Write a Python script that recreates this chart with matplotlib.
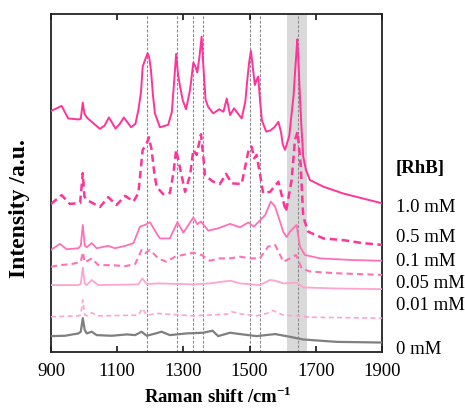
import matplotlib
matplotlib.use("Agg")
import matplotlib.pyplot as plt

plt.rcParams['font.family'] = ['Liberation Serif', 'DejaVu Serif']
plt.rcParams['mathtext.fontset'] = 'custom'
plt.rcParams['mathtext.rm'] = 'Liberation Serif'
plt.rcParams['mathtext.bf'] = 'Liberation Serif:bold'

# SERS spectra of RhB, stacked with offsets (wavenumber, intensity a.u.)
shift_1mM = [900, 915, 932, 952, 983, 990, 996, 1001, 1008, 1023, 1048, 1062, 1075, 1095, 1108,
             1120, 1142, 1155, 1164, 1172, 1177, 1184, 1192, 1197, 1202, 1208, 1214, 1229, 1254,
             1265, 1272, 1278, 1284, 1290, 1298, 1308, 1320, 1330, 1336, 1342, 1348, 1355, 1360,
             1367, 1375, 1390, 1408, 1421, 1431, 1441, 1453, 1476, 1487, 1493, 1499, 1504, 1510,
             1516, 1521, 1526, 1531, 1537, 1550, 1562, 1575, 1587, 1595, 1600, 1607, 1620,
             1627, 1633, 1637, 1641, 1644, 1648, 1652, 1657, 1662, 1670, 1682, 1723, 1783,
             1843, 1900]
int_1mM = [71.3, 72.0, 72.8, 69.1, 68.8, 69.0, 73.8, 70.5, 69.4, 68.1, 66.0, 67.0, 69.4, 66.1, 67.5,
           69.4, 66.5, 67.5, 71.6, 77.0, 84.4, 86.4, 88.4, 87.0, 83.4, 76.0, 70.6, 66.5, 67.2,
           71.0, 80.0, 88.2, 82.0, 78.5, 74.5, 71.8, 77.5, 85.6, 84.5, 82.7, 87.0, 93.3, 85.0,
           74.6, 72.5, 70.6, 71.8, 71.1, 75.0, 70.1, 72.1, 69.1, 74.0, 80.5, 86.0, 89.1, 84.0,
           79.0, 80.5, 81.5, 75.0, 68.6, 65.2, 65.5, 66.5, 68.1, 65.0, 61.5, 59.8, 64.0,
           70.6, 76.0, 82.4, 88.0, 92.5, 85.0, 75.5, 66.0, 57.8, 54.0, 50.9, 48.9, 46.9,
           45.4, 44.0]

shift_05mM = [900, 932, 957, 988, 996, 1001, 1008, 1048, 1073, 1098, 1124, 1149, 1164, 1177,
              1189, 1196, 1204, 1212, 1219, 1239, 1259, 1270, 1278, 1290, 1305, 1320, 1330,
              1340, 1353, 1360, 1365, 1390, 1410, 1429, 1446, 1476, 1496, 1506, 1514, 1521,
              1531, 1541, 1562, 1587, 1598, 1610, 1627, 1637, 1645, 1654, 1662, 1677, 1723,
              1783, 1843, 1900]
int_05mM = [43.8, 46.4, 43.8, 44.1, 52.9, 46.0, 45.0, 42.9, 45.8, 43.5, 46.2, 44.5, 47.0, 59.8,
            61.7, 63.5, 59.8, 53.0, 48.9, 46.7, 47.0, 53.0, 59.8, 54.3, 47.4, 52.2, 59.8,
            58.3, 64.4, 58.0, 52.2, 50.4, 49.7, 52.7, 49.9, 49.7, 59.3, 60.8, 57.3, 58.3,
            52.9, 47.0, 47.4, 50.4, 46.0, 41.5, 50.9, 62.7, 65.2, 55.8, 40.0, 35.6, 33.6,
            33.1, 32.2, 31.7]

shift_01mM = [900, 927, 947, 983, 990, 996, 1002, 1008, 1023, 1038, 1073, 1093, 1124, 1149,
              1169, 1184, 1199, 1219, 1229, 1259, 1282, 1300, 1330, 1342, 1353, 1375, 1405,
              1441, 1471, 1496, 1513, 1528, 1547, 1564, 1577, 1587, 1602, 1612, 1622, 1642,
              1652, 1667, 1713, 1813, 1900]
int_01mM = [30.2, 32.0, 30.4, 30.7, 31.5, 37.6, 31.5, 31.0, 32.2, 30.7, 31.4, 30.7, 31.4, 32.2,
            37.1, 37.6, 38.4, 35.1, 33.6, 33.6, 38.4, 35.3, 39.8, 37.8, 38.6, 35.9, 36.6,
            37.9, 36.9, 38.3, 37.1, 38.6, 40.5, 44.5, 43.0, 40.0, 35.5, 34.0, 35.6, 37.6,
            31.2, 28.7, 27.7, 27.2, 27.0]

shift_005mM = [900, 927, 962, 990, 996, 1002, 1023, 1043, 1083, 1124, 1154, 1174, 1184, 1199,
               1224, 1249, 1275, 1330, 1355, 1380, 1410, 1441, 1471, 1501, 1531, 1556, 1577,
               1602, 1622, 1640, 1657, 1682, 1763, 1900]
int_005mM = [25.2, 25.7, 26.0, 26.7, 29.5, 26.5, 27.7, 25.7, 25.7, 25.4, 26.0, 30.2, 29.2, 30.2,
             27.7, 26.7, 28.2, 29.4, 28.7, 27.0, 27.7, 27.7, 28.2, 27.7, 27.7, 31.2, 31.7,
             26.7, 27.7, 28.7, 24.8, 23.8, 23.3, 22.8]

shift_001mM = [900, 983, 990, 996, 1002, 1008, 1023, 1043, 1164, 1176, 1189, 1224, 1330, 1380,
               1441, 1471, 1531, 1562, 1577, 1602, 1642, 1662, 1763, 1900]
int_001mM = [19.8, 19.8, 20.2, 25.0, 20.2, 19.8, 21.3, 19.8, 20.0, 21.8, 20.1, 20.3, 20.0, 20.3,
             21.1, 20.3, 19.8, 21.3, 21.1, 20.3, 20.5, 19.1, 18.8, 18.6]

shift_001mM_b = [900, 983, 990, 996, 1002, 1008, 1023, 1043, 1164, 1176, 1189, 1224, 1330, 1431,
                 1446, 1476, 1521, 1552, 1570, 1602, 1642, 1682, 1900]
int_001mM_b = [10.4, 10.7, 11.0, 15.4, 11.0, 10.7, 11.6, 10.7, 10.9, 12.9, 10.9, 11.4, 10.7, 11.2,
               11.9, 11.2, 10.7, 11.4, 12.3, 10.9, 10.7, 10.3, 10.0]

shift_0mM = [900, 942, 983, 990, 996, 1002, 1008, 1023, 1038, 1083, 1129, 1154, 1174, 1189,
             1224, 1234, 1259, 1310, 1360, 1388, 1405, 1441, 1471, 1521, 1577, 1622, 1662,
             1763, 1900]
int_0mM = [4.7, 4.8, 5.5, 6.0, 10.0, 6.5, 5.5, 6.0, 5.0, 4.8, 5.2, 5.0, 6.0, 4.8,
           5.7, 6.0, 5.0, 5.5, 5.7, 6.3, 4.7, 5.7, 5.3, 4.7, 5.3, 4.5, 3.7,
           3.0, 2.8]

# RhB band positions marked with dashed lines, and the highlighted band
band_lines = [1190, 1280, 1330, 1358, 1500, 1530, 1645]
band_span = (1614, 1674)

conc_labels = ['1.0 mM', '0.5 mM', '0.1 mM', '0.05 mM', '0.01 mM', '0 mM']
label_y = [207, 237, 261, 283, 306, 349]

hot = '#ff3399'
mid = '#ff70b8'
light = '#ffa3d1'

fig = plt.figure(figsize=(4.65, 4.08), dpi=100)
ax = fig.add_axes([51 / 465, 56 / 408, 331 / 465, 338 / 408])

ax.axvspan(band_span[0], band_span[1], color='#d9d9d9', lw=0, zorder=0)
for b in band_lines:
    ax.axvline(b, color='#8a8a8a', lw=0.8, ls=(0, (2.5, 1.5)), zorder=1)

ax.plot(shift_0mM, int_0mM, color='#7f7f7f', lw=1.6, zorder=3)
ax.plot(shift_001mM_b, int_001mM_b, color=light, lw=1.2, ls=(0, (3, 2)), zorder=3)
ax.plot(shift_001mM, int_001mM, color=light, lw=1.3, zorder=3)
ax.plot(shift_005mM, int_005mM, color=mid, lw=1.5, ls=(0, (3, 2)), zorder=3)
ax.plot(shift_01mM, int_01mM, color=mid, lw=1.3, zorder=3)
ax.plot(shift_05mM, int_05mM, color=hot, lw=1.8, ls=(0, (3, 1.8)), zorder=3)
ax.plot(shift_1mM, int_1mM, color=hot, lw=1.4, zorder=3)

ax.set_xlim(900, 1900)
ax.set_ylim(0, 100)
ax.set_xticks(range(900, 1901, 200))
ax.set_yticks([])
ax.tick_params(axis='x', direction='in', top=True, length=4, width=1.1,
               labelsize=13.5, pad=8)
for s in ax.spines.values():
    s.set_linewidth(1.3)
    s.set_color('#222222')

ax.set_xlabel('Raman shift /cm$^{\\mathbf{-1}}$', fontsize=13.5, fontweight='bold')
ax.xaxis.set_label_coords(0.505, -0.10)
ax.set_ylabel('Intensity /a.u.', fontsize=17, fontweight='bold')
ax.yaxis.set_label_coords(-0.062, 0.423)

fig.text(396 / 465, 1 - 168 / 408, '[RhB]', fontsize=13.5, fontweight='bold', va='center')
for lab, yy in zip(conc_labels, label_y):
    fig.text(396 / 465, 1 - yy / 408, lab, fontsize=13.5, va='center')

fig.savefig('out.png', dpi=100)
